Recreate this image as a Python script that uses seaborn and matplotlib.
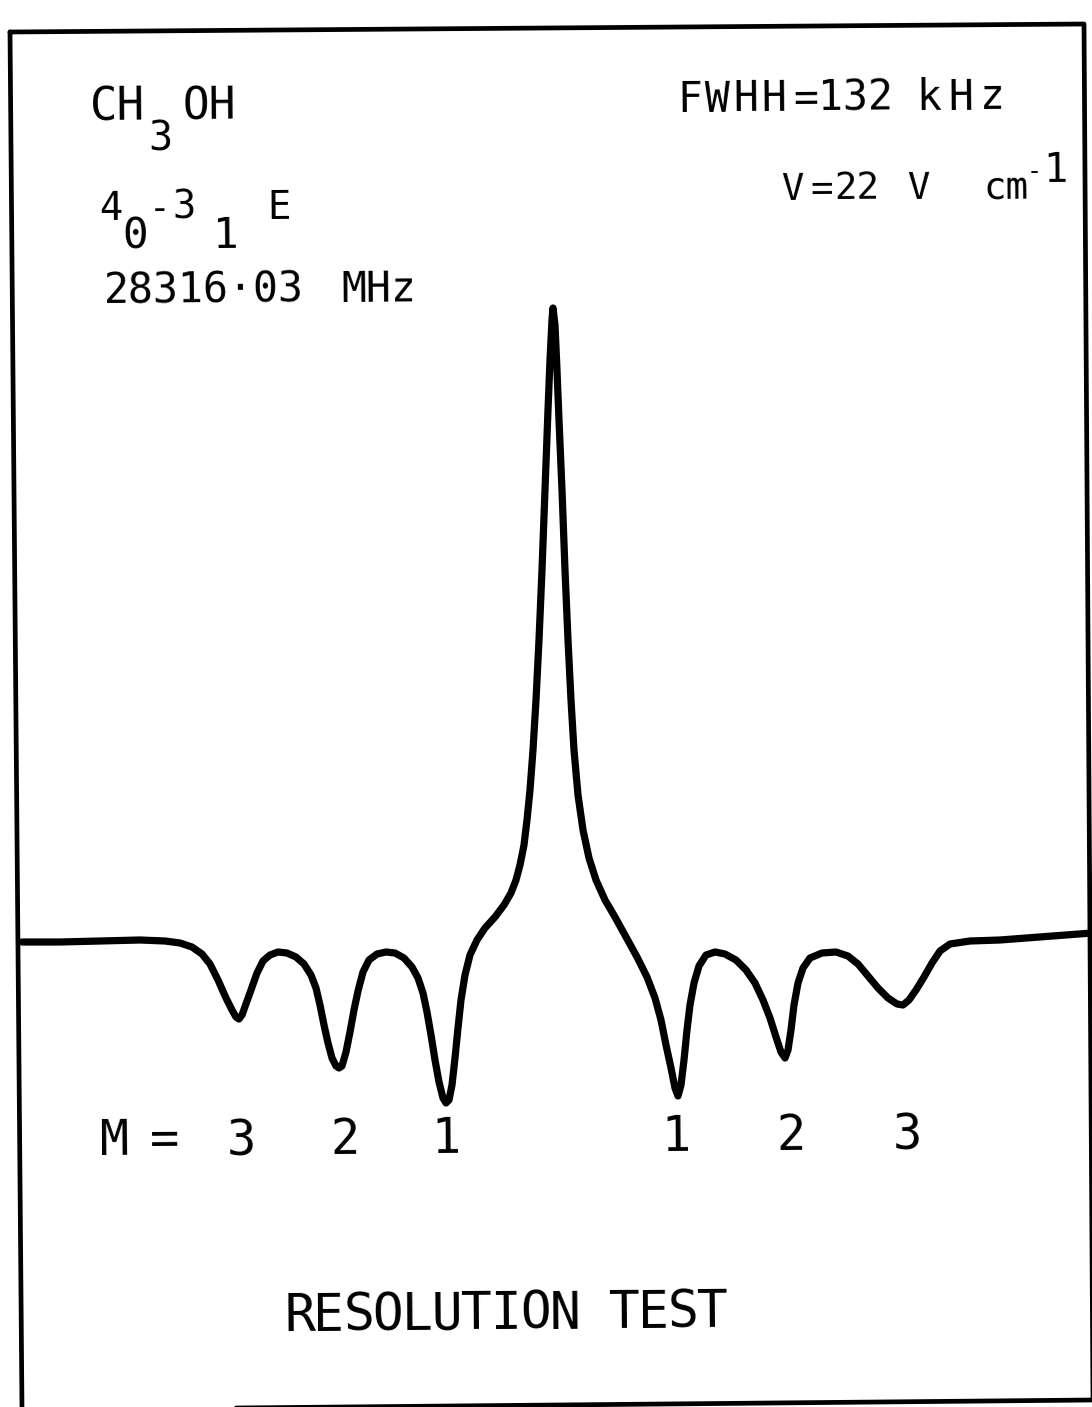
import numpy as np
import matplotlib
matplotlib.use("Agg")
import matplotlib.pyplot as plt
from matplotlib.lines import Line2D
import seaborn as sns

# spectrum trace: frequency offset from line centre (kHz)
# and detector signal (arbitrary units, 0 = baseline)
offset_khz = [-2655, -2465, -2265, -2065, -1940, -1865, -1805, -1755, -1715, -1675,
              -1635, -1605, -1585, -1570, -1555, -1535, -1510, -1480, -1450, -1415,
              -1375, -1330, -1285, -1245, -1210, -1185, -1165, -1145, -1125, -1105,
              -1085, -1070, -1055, -1035, -1015, -995, -975, -950, -920, -880,
              -835, -790, -745, -705, -675, -650, -630, -610, -590, -570,
              -550, -535, -520, -505, -490, -475, -460, -440, -415, -380,
              -340, -290, -245, -210, -185, -165, -145, -130, -115, -100,
              -85, -70, -55, -40, -25, -15, -5, 0, 10, 20,
              30, 45, 60, 75, 90, 105, 125, 150, 180, 215,
              260, 310, 365, 420, 470, 510, 540, 565, 590, 610,
              625, 640, 655, 670, 685, 705, 730, 765, 810, 860,
              915, 965, 1010, 1050, 1085, 1115, 1140, 1160, 1175, 1190,
              1205, 1225, 1250, 1285, 1345, 1415, 1475, 1525, 1575, 1625,
              1675, 1720, 1750, 1780, 1815, 1855, 1895, 1935, 1985, 2085,
              2235, 2435, 2695]
signal = [0, 0, 1, 2, 1, -1, -5, -12, -22, -38,
          -56, -68, -75, -77, -73, -62, -48, -31, -19, -13,
          -10, -11, -15, -22, -33, -46, -63, -83, -101, -116,
          -124, -126, -124, -110, -90, -68, -49, -30, -18, -12,
          -10, -11, -16, -25, -36, -51, -70, -93, -118, -140,
          -156, -161, -158, -143, -116, -86, -58, -33, -13, 2,
          14, 25, 37, 49, 62, 77, 97, 122, 152, 192,
          242, 302, 372, 452, 532, 582, 622, 634, 617, 572,
          522, 452, 372, 302, 242, 192, 147, 112, 84, 62,
          42, 25, 5, -15, -35, -56, -78, -103, -126, -146,
          -154, -143, -118, -88, -63, -41, -24, -13, -10, -12,
          -18, -28, -41, -58, -76, -95, -110, -116, -108, -88,
          -63, -41, -26, -16, -11, -10, -14, -22, -34, -46,
          -56, -62, -63, -58, -48, -35, -21, -9, -2, 1,
          2, 5, 9]

# Stark component labels
m_labels = ["3", "2", "1", "1", "2", "3"]
m_label_x = [241, 345, 446, 676, 791, 907]

W, H = 1092, 1407
TILT = 0.009
ANGLE = np.degrees(np.arctan(TILT))
FONT = ["DejaVu Sans Mono", "DejaVu Sans"]

sns.set_style("white")
plt.rcParams["font.family"] = FONT

fig = plt.figure(figsize=(W / 100, H / 100), dpi=100)
ax = fig.add_axes([0, 0, 1, 1])
sns.lineplot(x=offset_khz, y=signal, ax=ax, color="black", linewidth=5.2,
             sort=False, estimator=None)
ax.set_xlim(-2765, 2695)
ax.set_ylim(-465, 942)
ax.axis("off")

# slightly rotated frame of the scanned page
frame_x = [10, 1084, 1093, 22, 10]
frame_y = [32, 24, 1400, 1410, 32]
fig.add_artist(Line2D([x / W for x in frame_x], [1 - y / H for y in frame_y],
                      color="black", linewidth=3.4, transform=fig.transFigure))


def put(s, x, y, size, pitch=None, ha="left"):
    if pitch is None:
        parts = [(s, x, y)]
    else:
        parts = [(c, x + i * pitch, y - i * pitch * TILT) for i, c in enumerate(s)]
    for t, xx, yy in parts:
        fig.text(xx / W, 1 - yy / H, t, fontsize=size, ha=ha, va="baseline",
                 rotation=ANGLE, rotation_mode="anchor", color="black")


# top-left labels
put("CH", 90, 121, 33)
put("3", 148, 151, 29)
put("OH", 182, 120, 32)
put("4", 99, 220, 28)
put("0", 122, 249, 31)
put("-", 160, 219, 26, ha="center")
put("3", 172, 219, 28)
put("1", 213, 248, 31)
put("E", 267, 219, 28)
put("28316·03", 104, 304, 30)
put("MHz", 341, 302, 30)

# top-right labels
put("FWHH", 677, 112, 30, pitch=28)
put("=", 793, 111, 30)
put("132", 818, 111, 30)
put("kHz", 916, 110, 30, pitch=32)
put("V", 782, 200, 27)
put("=", 810, 200, 27)
put("22", 834, 199, 27)
put("V", 908, 199, 27)
put("cm", 983, 199, 27)
put("-", 1027, 179, 18)
put("1", 1043, 182, 29)

# component labels
put("M", 100, 1155, 35)
put("=", 165, 1155, 35, ha="center")
for lab, lx in zip(m_labels, m_label_x):
    put(lab, lx, 1155 - (lx - 241) * TILT, 35, ha="center")

put("RESOLUTION TEST", 284, 1331, 37, pitch=29.5)

fig.savefig("out.png", dpi=100)
